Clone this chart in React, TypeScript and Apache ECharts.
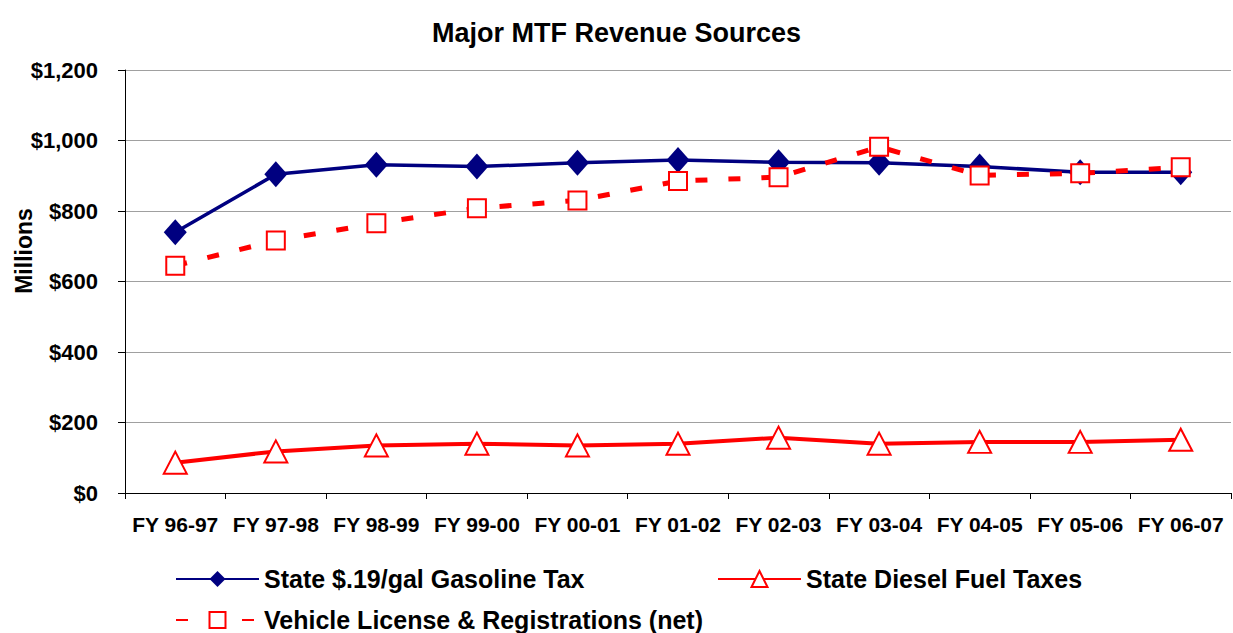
import React, { useEffect, useRef } from "react";
import * as echarts from "echarts";

const categories = ["FY 96-97", "FY 97-98", "FY 98-99", "FY 99-00", "FY 00-01", "FY 01-02", "FY 02-03", "FY 03-04", "FY 04-05", "FY 05-06", "FY 06-07"];
const gasolineTax = [740, 904, 931, 926, 937, 945, 938, 937, 926, 910, 910];
const dieselTaxes = [86, 118, 135, 140, 135, 140, 157, 140, 145, 145, 151];
const vehicleLicense = [645, 716, 765, 808, 830, 885, 896, 982, 901, 907, 924];
const seriesNames = ["State $.19/gal Gasoline Tax", "State Diesel Fuel Taxes", "Vehicle License & Registrations (net)"];

const FONT = "Liberation Sans, Arial, sans-serif";

export default function App() {
  const ref = useRef<HTMLDivElement>(null);
  useEffect(() => {
    if (!ref.current) return;
    const chart = echarts.init(ref.current, null, { renderer: "svg" });
    const legendText = { fontFamily: FONT, fontWeight: "bold", fontSize: 25, lineHeight: 26, color: "#000" };
    const legendBase = { itemWidth: 83, itemHeight: 20, itemGap: 0, padding: 0, textStyle: legendText };
    chart.setOption({
      animation: false,
      backgroundColor: "#fff",
      title: {
        text: "Major MTF Revenue Sources",
        left: "center",
        top: 14,
        textStyle: { fontFamily: FONT, fontWeight: "bold", fontSize: 27, color: "#000" },
      },
      legend: [
        { ...legendBase, data: [seriesNames[0]], left: 175, top: 566 },
        { ...legendBase, data: [seriesNames[1]], left: 717, top: 566 },
        { ...legendBase, data: [seriesNames[2]], left: 175, top: 607 },
      ],
      graphic: [
        {
          type: "text",
          x: 24,
          y: 251,
          rotation: Math.PI / 2,
          style: {
            text: "Millions",
            fontFamily: FONT,
            fontWeight: "bold",
            fontSize: 23,
            fill: "#000",
            textAlign: "center",
            textVerticalAlign: "middle",
          },
        },
      ],
      grid: { left: 125, right: 2, top: 70, bottom: 140 },
      xAxis: {
        type: "category",
        data: categories,
        boundaryGap: true,
        axisLine: { lineStyle: { color: "#000", width: 1 } },
        axisTick: { show: true, length: 6, lineStyle: { color: "#000" } },
        axisLabel: { fontFamily: FONT, fontWeight: "bold", fontSize: 21, color: "#000", margin: 21, interval: 0 },
      },
      yAxis: {
        type: "value",
        min: 0,
        max: 1200,
        interval: 200,
        axisLine: { show: true, lineStyle: { color: "#000", width: 1 } },
        axisTick: { show: true, length: 7, lineStyle: { color: "#000" } },
        axisLabel: {
          fontFamily: FONT, fontWeight: "bold", fontSize: 22, color: "#000", margin: 27,
          formatter: (v: number) => "$" + v.toLocaleString("en-US"),
        },
        splitLine: { lineStyle: { color: "#a0a0a0", width: 1 } },
      },
      series: [
        {
          name: seriesNames[0],
          type: "line",
          data: gasolineTax,
          symbol: "diamond",
          symbolSize: [23, 26],
          lineStyle: { color: "#000080", width: 3.5 },
          itemStyle: { color: "#000080" },
          z: 2,
        },
        {
          name: seriesNames[1],
          type: "line",
          data: dieselTaxes,
          symbol: "triangle",
          symbolSize: [23, 22],
          lineStyle: { color: "#ff0000", width: 4 },
          itemStyle: { color: "#fff", borderColor: "#ff0000", borderWidth: 2 },
          z: 3,
        },
        {
          name: seriesNames[2],
          type: "line",
          data: vehicleLicense,
          symbol: "rect",
          symbolSize: 18,
          lineStyle: { color: "#ff0000", width: 5, type: [12, 21] },
          itemStyle: { color: "#fff", borderColor: "#ff0000", borderWidth: 2 },
          z: 4,
        },
      ],
    });
    return () => chart.dispose();
  }, []);
  return <div ref={ref} style={{ width: 1233, height: 633, position: "absolute", left: 0, top: 0 }} />;
}
